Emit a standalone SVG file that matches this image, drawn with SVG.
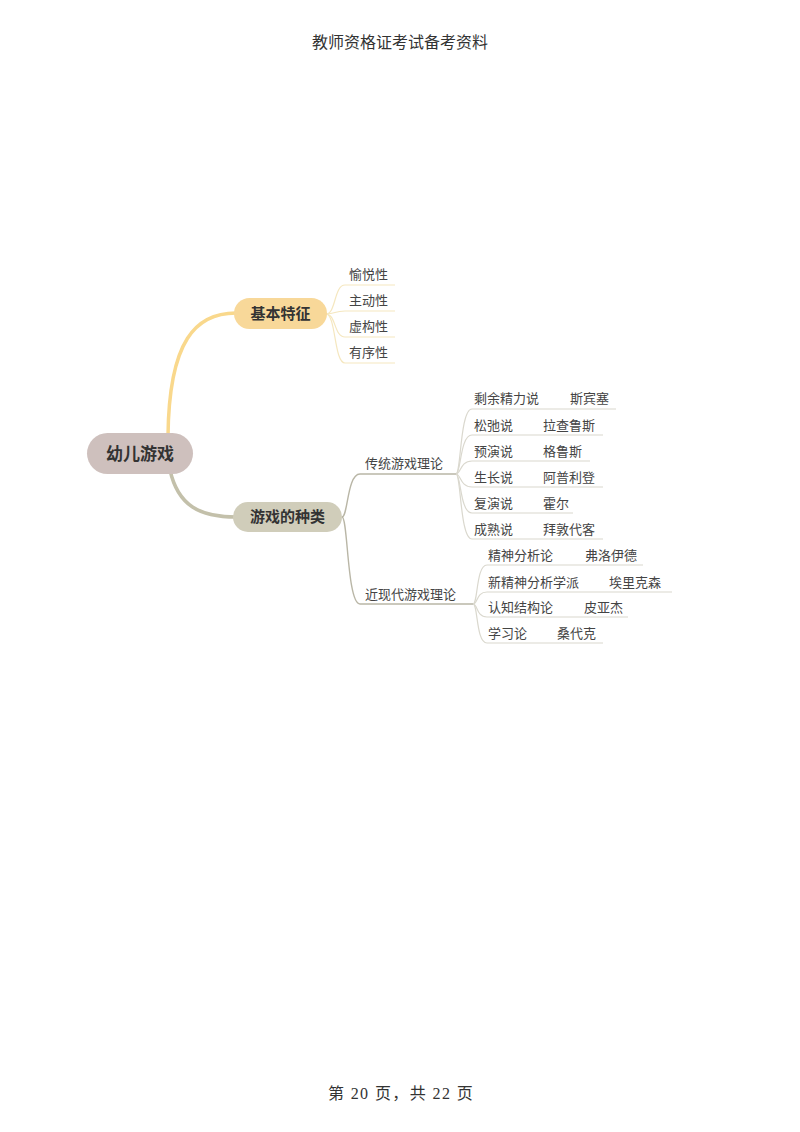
<svg xmlns="http://www.w3.org/2000/svg" width="800" height="1132" viewBox="0 0 800 1132">
<style>
.hdr{font-family:"Liberation Serif","Noto Sans CJK SC",serif;font-size:16px;fill:#333;text-anchor:middle}
.root{font-family:"Noto Sans CJK SC",sans-serif;font-size:17px;font-weight:bold;fill:#333;text-anchor:middle}
.main{font-family:"Noto Sans CJK SC",sans-serif;font-size:15px;font-weight:bold;fill:#333;text-anchor:middle}
.leaf{font-family:"Noto Sans CJK SC",sans-serif;font-size:13px;fill:#444}
.c1{fill:none;stroke:#f5e7bf;stroke-width:1.2}
.c2{fill:none;stroke:#b9b6a6;stroke-width:1.4}
.c3{fill:none;stroke:#dad8ce;stroke-width:1.2}
</style>
<rect width="800" height="1132" fill="#fff"/>
<text class="hdr" x="400" y="48">教师资格证考试备考资料</text>
<text class="hdr" x="401" y="1099" letter-spacing="1.4">第 20 页，共 22 页</text>
<g id="connectors">
<path d="M168,436 C169,340 196,313 236,313" fill="none" stroke="#f9d88c" stroke-width="3.5" stroke-linecap="round"/>
<path d="M170,470 C178,506 200,517 236,517" fill="none" stroke="#c3c0aa" stroke-width="3.5" stroke-linecap="round"/>
<path class="c1" d="M326,314 C336,314 334,285 345,285 H395"/>
<path class="c1" d="M326,314 C336,314 334,311 345,311 H395"/>
<path class="c1" d="M326,314 C336,314 334,337 345,337 H395"/>
<path class="c1" d="M326,314 C336,314 334,363 345,363 H395"/>
<path class="c2" d="M342,517 C348,517 347,474 360,474 H456"/>
<path class="c2" d="M342,517 C348,517 347,604 360,604 H473"/>
<path class="c3" d="M456,474 C461,474 460,409 472,409 H616"/>
<path class="c3" d="M456,474 C461,474 460,435 472,435 H603"/>
<path class="c3" d="M456,474 C461,474 460,461 472,461 H590"/>
<path class="c3" d="M456,474 C461,474 460,487 472,487 H603"/>
<path class="c3" d="M456,474 C461,474 460,513 472,513 H573"/>
<path class="c3" d="M456,474 C461,474 460,539 472,539 H603"/>
<path class="c3" d="M473,604 C478,604 476,565 487,565 H643"/>
<path class="c3" d="M473,604 C478,604 476,592 487,592 H672"/>
<path class="c3" d="M473,604 C478,604 476,617 487,617 H628"/>
<path class="c3" d="M473,604 C478,604 476,643 487,643 H603"/>
</g>
<g id="root">
<rect x="87" y="433" width="106" height="41" rx="20.5" fill="#cec0bd"/>
<text class="root" x="140" y="460">幼儿游戏</text>
</g>
<g id="n-features">
<rect x="234" y="298" width="93" height="31" rx="15.5" fill="#f8d899"/>
<text class="main" x="280.5" y="319">基本特征</text>
</g>
<g id="n-types">
<rect x="233" y="502" width="109" height="30" rx="15" fill="#d0cdba"/>
<text class="main" x="287.5" y="522">游戏的种类</text>
</g>
<g id="features-leaves">
<text class="leaf" x="349" y="279">愉悦性</text>
<text class="leaf" x="349" y="305">主动性</text>
<text class="leaf" x="349" y="331">虚构性</text>
<text class="leaf" x="349" y="357">有序性</text>
</g>
<g id="n-traditional">
<text class="leaf" x="365" y="468">传统游戏理论</text>
</g>
<g id="n-modern">
<text class="leaf" x="365" y="599">近现代游戏理论</text>
</g>
<g id="traditional-leaves">
<text class="leaf" x="474" y="403">剩余精力说</text><text class="leaf" x="570" y="403">斯宾塞</text>
<text class="leaf" x="474" y="430">松弛说</text><text class="leaf" x="543" y="430">拉查鲁斯</text>
<text class="leaf" x="474" y="456">预演说</text><text class="leaf" x="543" y="456">格鲁斯</text>
<text class="leaf" x="474" y="482">生长说</text><text class="leaf" x="543" y="482">阿普利登</text>
<text class="leaf" x="474" y="508">复演说</text><text class="leaf" x="543" y="508">霍尔</text>
<text class="leaf" x="474" y="534">成熟说</text><text class="leaf" x="543" y="534">拜敦代客</text>
</g>
<g id="modern-leaves">
<text class="leaf" x="488" y="560">精神分析论</text><text class="leaf" x="585" y="560">弗洛伊德</text>
<text class="leaf" x="488" y="587">新精神分析学派</text><text class="leaf" x="609" y="587">埃里克森</text>
<text class="leaf" x="488" y="612">认知结构论</text><text class="leaf" x="584" y="612">皮亚杰</text>
<text class="leaf" x="488" y="638">学习论</text><text class="leaf" x="557" y="638">桑代克</text>
</g>
</svg>
